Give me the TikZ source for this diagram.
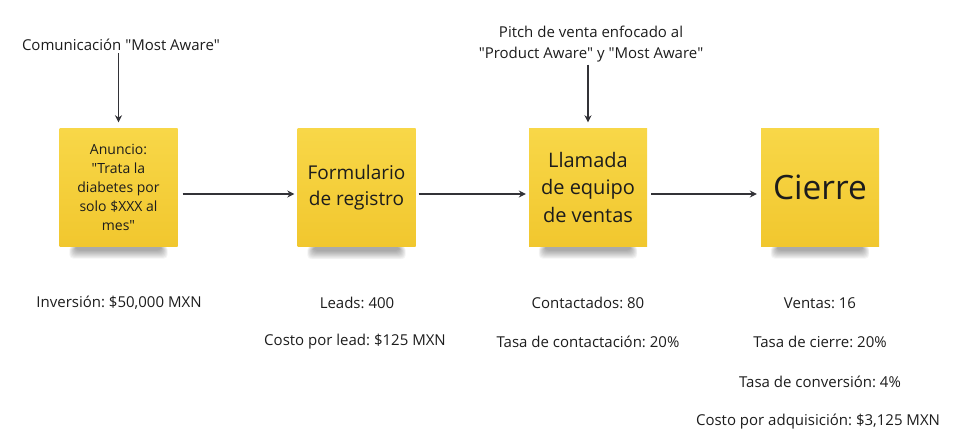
\documentclass[tikz,border=0pt]{standalone}
\usepackage{fontspec}
\setmainfont{Open Sans}
\usetikzlibrary{arrows.meta,calc}
\definecolor{noteTop}{RGB}{248,215,72}
\definecolor{noteBot}{RGB}{241,199,46}
\definecolor{ink}{RGB}{28,28,28}
\definecolor{arrowc}{RGB}{50,50,55}
\newcommand{\dq}{\textquotedbl}
\tikzset{
  note/.style={rectangle, minimum width=118pt, minimum height=118pt, inner sep=0pt,
    top color=noteTop, bottom color=noteBot, align=center, text=ink},
  lbl/.style={inner sep=1pt, align=center, text=ink, font=\fontsize{15}{21}\selectfont},
  arr/.style={draw=arrowc, line width=1.3pt, -{Stealth[length=7pt,width=7pt]}},
  ghost/.style={rectangle, minimum width=118pt, minimum height=118pt, inner sep=0pt},
}
\newcommand{\noteshadow}[1]{%
  \foreach \i in {0,...,9}{%
    \fill[black, opacity=0.04, rounded corners=4pt]
      ($(#1.south west)+(10pt+0.7*\i pt,1pt)$) rectangle ($(#1.south east)+(-10pt-0.7*\i pt,-12pt+0.9*\i pt)$);
  }%
}
\begin{document}
\frenchspacing
\begin{tikzpicture}[x=1pt,y=-1pt]
\useasboundingbox (0,0) rectangle (965,435);
% shadow placeholders
\node[ghost] (h1) at (118.5,187.5) {};
\node[ghost] (h2) at (356.5,188) {};
\node[ghost] (h3) at (588,187.5) {};
\node[ghost] (h4) at (820,187.5) {};
\noteshadow{h1}\noteshadow{h2}\noteshadow{h3}\noteshadow{h4}
% notes
\node[note, font=\fontsize{14}{18.8}\selectfont] (n1) at (h1)
  {Anuncio:\\\dq Trata la\\diabetes por\\solo \$XXX al\\mes\dq};
\node[note, font=\fontsize{19}{26}\selectfont] (n2) at (h2) {Formulario\\de registro};
\node[note, font=\fontsize{20}{27.5}\selectfont] (n3) at (h3) {Llamada\\de equipo\\de ventas};
\node[note, font=\fontsize{33.5}{40}\selectfont] (n4) at (h4) {Cierre};
% top labels
\node[lbl] (t1) at (121,45) {Comunicación \dq Most Aware\dq};
\node[lbl] (t2) at (591,44.5) {Pitch de venta enfocado al\\\dq Product Aware\dq{} y \dq Most Aware\dq};
% vertical arrows
\draw[arr] ([yshift=-1pt]t1.south -| n1.north) -- ([yshift=6pt]n1.north);
\draw[arr] ([yshift=-1pt]t2.south -| n3.north) -- ([yshift=6pt]n3.north);
% horizontal arrows
\draw[arr] ([xshift=5pt,yshift=-6.5pt]n1.east) -- ([xshift=-3pt,yshift=-6pt]n2.west);
\draw[arr] ([xshift=3pt,yshift=-6pt]n2.east) -- ([xshift=-3pt,yshift=-6.5pt]n3.west);
\draw[arr] ([xshift=4pt,yshift=-6.5pt]n3.east) -- ([xshift=-4pt,yshift=-6.5pt]n4.west);
% bottom labels
\node[lbl] (b1) at (119,303) {Inversión: \$50,000 MXN};
\node[lbl] (b2a) at (357,303) {Leads: 400};
\node[lbl] (b2b) at (355,342) {Costo por lead: \$125 MXN};
\node[lbl] (b3a) at (588,303) {Contactados: 80};
\node[lbl] (b3b) at (588,342) {Tasa de contactación: 20\%};
\node[lbl] (b4a) at (820,303) {Ventas: 16};
\node[lbl] (b4b) at (820,342) {Tasa de cierre: 20\%};
\node[lbl] (b4c) at (820,382) {Tasa de conversión: 4\%};
\node[lbl] (b4d) at (818,422) {Costo por adquisición: \$3,125 MXN};
\end{tikzpicture}
\end{document}
